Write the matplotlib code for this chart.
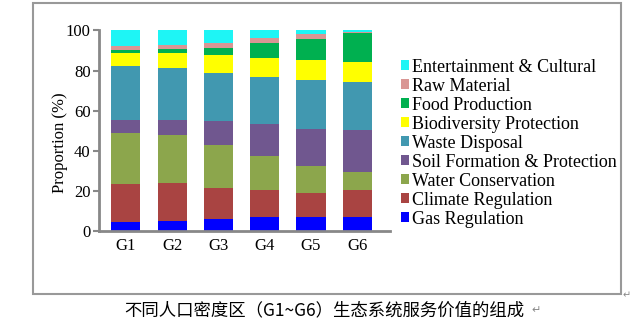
import matplotlib
matplotlib.use('Agg')
import matplotlib.pyplot as plt
from matplotlib.patches import Rectangle, Patch

groups = ['G1', 'G2', 'G3', 'G4', 'G5', 'G6']
services = ['Gas Regulation', 'Climate Regulation', 'Water Conservation',
            'Soil Formation & Protection', 'Waste Disposal',
            'Biodiversity Protection', 'Food Production', 'Raw Material',
            'Entertainment & Cultural']
colors = ['#0000FF', '#A94442', '#8CA64C', '#70578F', '#4198B0',
          '#FFFF00', '#00B050', '#D99694', '#1EF5F5']

# proportion (%) of each service, per group
gas = [4.5, 5.0, 6.1, 6.8, 6.8, 6.8]
climate = [18.8, 18.8, 15.3, 13.5, 12.3, 13.5]
water = [25.5, 23.9, 21.6, 16.9, 13.3, 9.3]
soil = [6.7, 7.8, 11.8, 16.0, 18.4, 20.6]
waste = [26.9, 25.7, 24.1, 23.4, 24.6, 23.9]
biodiv = [6.6, 7.8, 8.8, 9.8, 10.0, 10.1]
food = [1.2, 1.7, 3.7, 7.3, 10.6, 14.5]
raw = [2.2, 2.3, 2.6, 2.8, 2.3, 0.6]
ent = [7.6, 7.0, 6.0, 3.5, 1.7, 0.7]
series = [gas, climate, water, soil, waste, biodiv, food, raw, ent]

caption = '不同人口密度区（G1~G6）生态系统服务价值的组成'

plt.rcParams['font.family'] = ['Liberation Serif', 'DejaVu Serif']

fig = plt.figure(figsize=(6.44, 3.30), dpi=100)
ax = fig.add_axes([0.1537, 0.3, 0.452, 0.6076])

x = list(range(len(groups)))
bottom = [0.0] * len(groups)
for vals, col, name in zip(series, colors, services):
    ax.bar(x, vals, 0.63, bottom=bottom, color=col, label=name)
    bottom = [b + v for b, v in zip(bottom, vals)]

ax.set_xlim(-0.58, 5.71)
ax.set_ylim(0, 100)
ax.set_yticks([0, 20, 40, 60, 80, 100])
ax.set_xticks(x)
ax.set_xticklabels(groups)
ax.tick_params(axis='y', labelsize=12, length=4, width=1.5, color='#888888', pad=2)
ax.tick_params(axis='x', labelsize=12, length=0, pad=5)
for s in ['top', 'right']:
    ax.spines[s].set_visible(False)
for s in ['left', 'bottom']:
    ax.spines[s].set_color('#888888')
    ax.spines[s].set_linewidth(2)
ax.set_ylabel('Proportion (%)', fontsize=12)
ax.yaxis.set_label_coords(-0.105, 0.44)

handles = [Patch(facecolor=c, label=n) for c, n in zip(colors, services)]
fig.legend(handles[::-1], services[::-1], loc='upper left',
           bbox_to_anchor=(0.623, 0.822), frameon=False, fontsize=13,
           handlelength=0.45, handleheight=0.45, handletextpad=0.15,
           labelspacing=0.11, borderaxespad=0, borderpad=0)

fig.patches.append(Rectangle((0.0508, 0.109), 0.914, 0.881, transform=fig.transFigure,
                             fill=False, edgecolor='#999999', linewidth=1.5))
fig.text(0.503, 0.06, caption, ha='center', va='center', fontsize=12.5,
         family=['Noto Sans CJK SC', 'DejaVu Sans'])
fig.text(0.826, 0.06, '↵', ha='left', va='center', fontsize=8, color='#888888',
         family=['DejaVu Sans'])
fig.text(0.966, 0.105, '↵', ha='left', va='center', fontsize=7, color='#888888',
         family=['DejaVu Sans'])

fig.savefig('out.png', dpi=100)
